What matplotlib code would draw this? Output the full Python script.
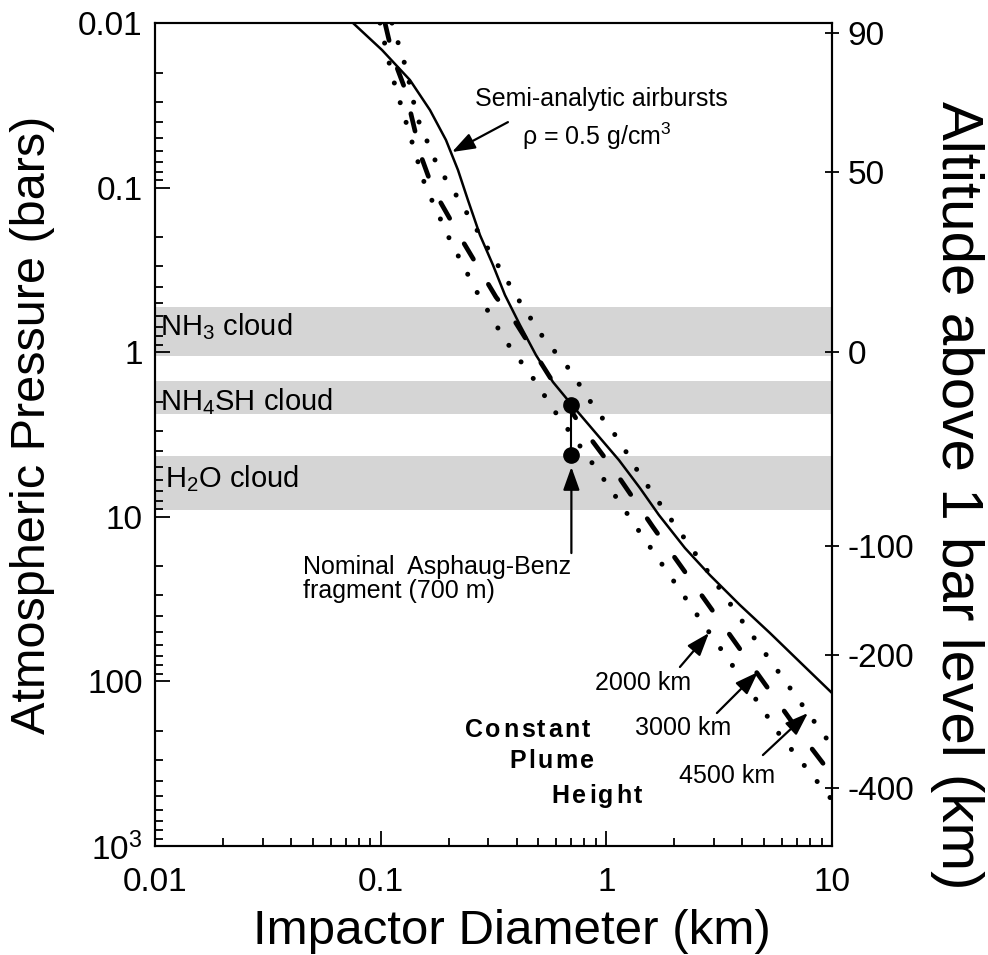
import matplotlib
matplotlib.use('Agg')
import matplotlib.pyplot as plt
from matplotlib.ticker import LogLocator, NullFormatter, NullLocator
from matplotlib.transforms import offset_copy
import numpy as np

plt.rcParams['font.family'] = ['Liberation Sans', 'DejaVu Sans']
plt.rcParams['mathtext.fontset'] = 'custom'
plt.rcParams['mathtext.rm'] = 'Liberation Sans'
plt.rcParams['mathtext.it'] = 'Liberation Sans:italic'
plt.rcParams['mathtext.bf'] = 'Liberation Sans:bold'

# ---- semi-analytic airburst depth (rho = 0.5 g/cm^3) ----
airburst_diam = [0.0754, 0.1014, 0.1348, 0.1654, 0.1947, 0.2201, 0.2436,
                 0.2754, 0.3145, 0.3554, 0.4143, 0.4876, 0.58, 0.704,
                 0.8901, 1.137, 1.409, 1.71, 2.23, 2.877, 3.908, 5.31,
                 7.208, 10.0]
airburst_pres = [0.01, 0.01459, 0.0222, 0.0338, 0.0514, 0.0782, 0.119,
                 0.1941, 0.2953, 0.4493, 0.6835, 1.04, 1.517, 2.093,
                 3.053, 4.52, 6.683, 9.75, 15.47, 22.6, 34.34, 50.8,
                 76.23, 117.6]

# ---- constant plume height curves ----
plume_2000_diam = [0.0993, 0.1122, 0.1307, 0.1571, 0.2028, 0.2699, 0.3554,
                   0.473, 0.598, 0.7875, 1.016, 1.366, 1.973, 2.849, 4.197,
                   5.876, 10.0]
plume_2000_pres = [0.01, 0.0207, 0.0417, 0.0964, 0.208, 0.443, 0.843,
                   1.435, 2.341, 3.929, 6.41, 11.7, 24.2, 50.1, 106.6,
                   211.7, 525.0]

plume_3000_diam = [0.1045, 0.1134, 0.1282, 0.1389, 0.1509, 0.1705, 0.2292,
                   0.3243, 0.3975, 0.551, 0.7561, 1.081, 1.609, 2.679,
                   4.327, 7.208, 10.0]
plume_3000_pres = [0.01, 0.01609, 0.02518, 0.03995, 0.0643, 0.102, 0.208,
                   0.462, 0.6647, 1.356, 2.692, 5.196, 11.53, 30.72, 77.3,
                   205.8, 370.5]

plume_4500_diam = [0.1122, 0.1295, 0.1448, 0.1794, 0.2201, 0.3049, 0.4143,
                   0.5237, 0.6898, 0.8813, 1.137, 1.394, 1.781, 2.598,
                   4.113, 6.711, 10.0]
plume_4500_pres = [0.01, 0.01877, 0.03725, 0.0749, 0.1156, 0.2461, 0.4955,
                   0.8087, 1.283, 2.152, 3.415, 5.42, 8.842, 18.3, 45.44,
                   116.0, 247.0]

# ---- cloud decks (bars) ----
cloud_names = ['NH$_3$ cloud', 'NH$_4$SH cloud', 'H$_2$O cloud']
cloud_top = [0.53, 1.5, 4.27]
cloud_base = [1.05, 2.37, 9.1]
cloud_label_pres = [0.786, 2.24, 6.59]

# ---- nominal Asphaug-Benz fragment ----
fragment_diam = 0.7
fragment_pres = [2.09, 4.21]

# ---- altitude scale ----
alt_km = [90, 50, 0, -100, -200, -400]
alt_pres = [0.0115, 0.0804, 1.0, 15.0, 69.1, 444.0]

x_ticks = [0.01, 0.1, 1, 10]
x_ticklabels = ['0.01', '0.1', '1', '10']
y_ticks = [0.01, 0.1, 1, 10, 100, 1000]
y_ticklabels = ['0.01', '0.1', '1', '10', '100', '10$^3$']

TICK_FS = 24
NOTE_FS = 18


def spaced_label(ax, x, y, s, gap_px, **kw):
    """Centered text with extra letter spacing, baseline at (x, y)."""
    fig = ax.figure
    r = fig.canvas.get_renderer()
    widths = []
    for ch in s:
        t = ax.text(0.5, 0.5, ch, transform=ax.transAxes, **kw)
        widths.append(t.get_window_extent(r).width)
        t.remove()
    total = sum(widths) + gap_px * (len(s) - 1)
    off = -total / 2
    for ch, w in zip(s, widths):
        tr = offset_copy(ax.transData, fig=fig, x=off, y=0, units='dots')
        ax.text(x, y, ch, transform=tr, ha='left', va='baseline', **kw)
        off += w + gap_px


fig = plt.figure(figsize=(9.88, 9.55), dpi=100)
ax = fig.add_axes([0.1569, 0.1141, 0.6852, 0.8618])
ax.set_xscale('log')
ax.set_yscale('log')
ax.set_xlim(0.01, 10)
ax.set_ylim(1000, 0.01)

# cloud decks
for name, top, base, lp in zip(cloud_names, cloud_top, cloud_base, cloud_label_pres):
    ax.axhspan(top, base, color='#d5d5d5', lw=0, zorder=0)
    ax.text(0.008 if 'H$_2$' not in name else 0.015, lp, name,
            transform=ax.get_yaxis_transform(), ha='left', va='baseline',
            fontsize=21, zorder=2)

# curves
ax.plot(airburst_diam, airburst_pres, color='black', lw=1.8, zorder=4)
ax.plot(plume_2000_diam, plume_2000_pres, color='black', lw=3.6,
        linestyle=(0, (0.01, 4.1)), dash_capstyle='round', zorder=3)
ax.plot(plume_3000_diam, plume_3000_pres, color='black', lw=3.4,
        linestyle=(0, (3.8, 6.2)), dash_capstyle='round', zorder=3)
ax.plot(plume_4500_diam, plume_4500_pres, color='black', lw=3.6,
        linestyle=(0, (0.01, 4.1)), dash_capstyle='round', zorder=3)

# nominal fragment
ax.plot([fragment_diam, fragment_diam], fragment_pres, color='black', lw=1.5, zorder=5)
ax.plot([fragment_diam] * 2, fragment_pres, 'o', color='black', ms=11, zorder=6)

arrow = dict(arrowstyle='-|>,head_length=0.7,head_width=0.25', color='black',
             lw=1.6, mutation_scale=20, shrinkA=0, shrinkB=0)

ax.annotate('', xy=(fragment_diam, 4.98), xytext=(fragment_diam, 16.6),
            arrowprops=arrow, zorder=6)
ax.text(0.0452, 17.07, 'Nominal  Asphaug-Benz\nfragment (700 m)',
        ha='left', va='top', fontsize=NOTE_FS, linespacing=1.0)

ax.annotate('', xy=(0.207, 0.0608), xytext=(0.3664, 0.040), arrowprops=arrow)
ax.text(0.2617, 0.0319, 'Semi-analytic airbursts', ha='left', va='baseline',
        fontsize=NOTE_FS)
ax.text(0.4227, 0.0551, 'ρ = 0.5 g/cm$^3$', ha='left', va='baseline',
        fontsize=NOTE_FS)

# plume height labels
ax.text(1.453, 102.3, '2000 km', ha='center', va='center', fontsize=NOTE_FS)
ax.annotate('', xy=(2.849, 50.8), xytext=(2.119, 81.7), arrowprops=arrow)
ax.text(2.185, 191.9, '3000 km', ha='center', va='center', fontsize=NOTE_FS)
ax.annotate('', xy=(4.696, 87.7), xytext=(3.09, 155.6), arrowprops=arrow)
ax.text(3.422, 375.6, '4500 km', ha='center', va='center', fontsize=NOTE_FS)
ax.annotate('', xy=(7.822, 155.6), xytext=(4.941, 280.1), arrowprops=arrow)

spaced_label(ax, 0.447, 217.7, 'Constant', 2.5, fontsize=18, fontweight='bold')
spaced_label(ax, 0.571, 335.8, 'Plume', 2.5, fontsize=18, fontweight='bold')
spaced_label(ax, 0.9085, 548.0, 'Height', 2.5, fontsize=18, fontweight='bold')

# axes styling
ax.set_xticks(x_ticks)
ax.set_xticklabels(x_ticklabels)
ax.set_yticks(y_ticks)
ax.set_yticklabels(y_ticklabels)
ax.xaxis.set_minor_locator(LogLocator(base=10, subs=np.arange(2, 10)))
ax.yaxis.set_minor_locator(LogLocator(base=10, subs=np.arange(2, 10)))
ax.xaxis.set_minor_formatter(NullFormatter())
ax.yaxis.set_minor_formatter(NullFormatter())
ax.tick_params(which='both', direction='in', top=False, right=False, width=1.3)
ax.tick_params(which='major', length=11, labelsize=TICK_FS)
ax.tick_params(which='minor', length=6)
ax.tick_params(axis='x', which='major', pad=15)
ax.tick_params(axis='y', which='major', pad=9)
for sp in ax.spines.values():
    sp.set_linewidth(1.5)

ax.set_xlabel('Impactor Diameter (km)', fontsize=35.5, va='center')
ax.xaxis.set_label_coords(0.527, -0.1033)
ax.set_ylabel('Atmospheric Pressure (bars)', fontsize=35, va='center')
ax.yaxis.set_label_coords(-0.1817, 0.5115)

ax2 = ax.twinx()
ax2.set_yscale('log')
ax2.set_ylim(1000, 0.01)
ax2.set_yticks(alt_pres)
ax2.set_yticklabels([str(a) for a in alt_km])
ax2.yaxis.set_minor_locator(NullLocator())
ax2.tick_params(axis='y', direction='inout', length=10, width=1.3, pad=6,
                labelsize=TICK_FS)
for sp in ax2.spines.values():
    sp.set_linewidth(1.5)
ax2.set_ylabel('Altitude above 1 bar level (km)', fontsize=42, rotation=270,
               va='center')
ax2.yaxis.set_label_coords(1.184, 0.4265)

fig.savefig('out.png', dpi=100)
